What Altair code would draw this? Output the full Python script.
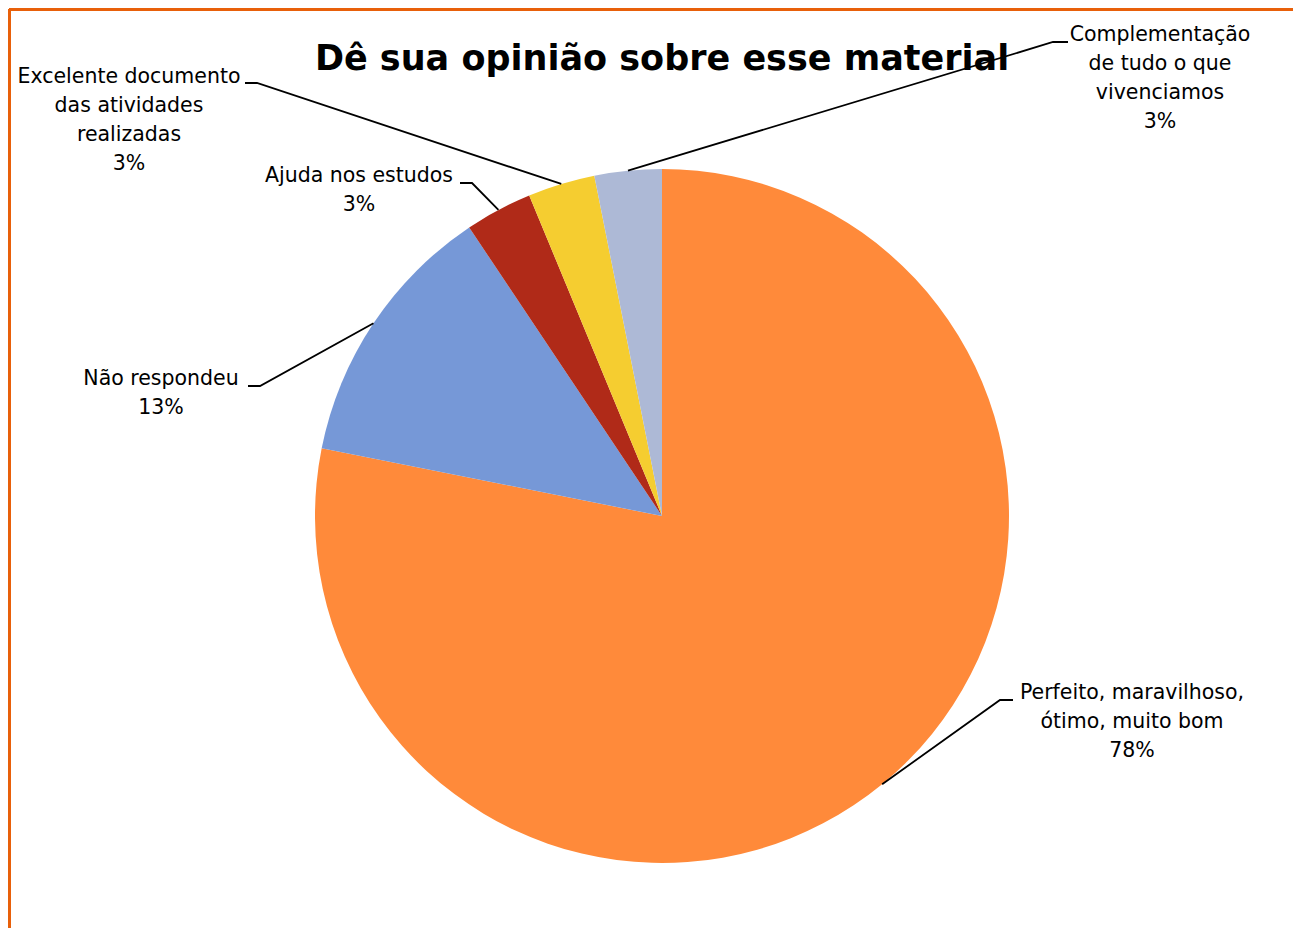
import math
import altair as alt
import pandas as pd

# ---- data ----
categories = [
    "Perfeito, maravilhoso, ótimo, muito bom",
    "Não respondeu",
    "Ajuda nos estudos",
    "Excelente documento das atividades realizadas",
    "Complementação de tudo o que vivenciamos",
]
label_lines = [
    "Perfeito, maravilhoso,\nótimo, muito bom",
    "Não respondeu",
    "Ajuda nos estudos",
    "Excelente documento\ndas atividades\nrealizadas",
    "Complementação\nde tudo o que\nvivenciamos",
]
counts = [25, 4, 1, 1, 1]
colors = ["#FF8A3A", "#7698D7", "#B02A18", "#F5CD30", "#ADB9D6"]
title_text = "Dê sua opinião sobre esse material"

# ---- layout (styles / placement, not data) ----
W, H = 1285, 920
CX, CY = 654, 508          # pie centre inside the view
R = 347                    # pie radius in px
FONT = "DejaVu Sans"
FS = 20.5
LH = 29
# label placement relative to the pie centre: (text centre x, first line centre y,
# elbow x, elbow y, tick end x)
label_layout = [
    (470, 177, 338, 184, 351),
    (-501, -137, -402, -130, -414),
    (-303, -340, -190, -333, -202),
    (-533, -439, -405, -433, -417),
    (498, -481, 391, -474, 406),
]

total = sum(counts)
pcts = [f"{math.floor(100 * c / total + 0.5)}%" for c in counts]

df = pd.DataFrame({"cat": categories, "count": counts, "idx": list(range(len(counts)))})

# label table and leader lines derived from slice mid-angles
lab_rows, line_rows = [], []
cum = 0
for i, c in enumerate(counts):
    mid = (cum + c / 2) / total * 2 * math.pi
    cum += c
    sx, sy = R * math.sin(mid), -R * math.cos(mid)
    tx, ty, ex, ey, kx = label_layout[i]
    lab_rows.append({"x": tx, "y": ty, "label": label_lines[i] + "\n" + pcts[i]})
    for k, (px, py) in enumerate([(sx, sy), (ex, ey), (kx, ey)]):
        line_rows.append({"g": i, "o": k, "x": px, "y": py})
lab_df = pd.DataFrame(lab_rows)
line_df = pd.DataFrame(line_rows)

xs = alt.Scale(domain=[-CX, W - CX], nice=False, zero=False)
ys = alt.Scale(domain=[-CY, H - CY], nice=False, zero=False, reverse=True)

pie = alt.Chart(df).mark_arc(outerRadius=R).encode(
    theta=alt.Theta("count:Q", stack=True),
    order=alt.Order("idx:Q"),
    color=alt.Color("cat:N", scale=alt.Scale(domain=categories, range=colors), legend=None),
    x=alt.X(datum=0, type="quantitative", scale=xs, axis=None),
    y=alt.Y(datum=0, type="quantitative", scale=ys, axis=None),
)

leaders = alt.Chart(line_df).mark_line(color="black", strokeWidth=1.8).encode(
    x=alt.X("x:Q", scale=xs, axis=None),
    y=alt.Y("y:Q", scale=ys, axis=None),
    detail="g:N",
    order="o:Q",
)

labels = alt.Chart(lab_df).mark_text(
    align="center", baseline="middle", lineBreak="\n", lineHeight=LH,
    font=FONT, fontSize=FS, color="black",
).encode(
    x=alt.X("x:Q", scale=xs, axis=None),
    y=alt.Y("y:Q", scale=ys, axis=None),
    text="label:N",
)

title = alt.Chart(pd.DataFrame({"t": [title_text]})).mark_text(
    align="center", baseline="middle", font=FONT, fontSize=35, fontWeight="bold", color="black",
).encode(
    x=alt.X(datum=0, type="quantitative", scale=xs, axis=None),
    y=alt.Y(datum=-457, type="quantitative", scale=ys, axis=None),
    text="t:N",
)

border_top = alt.Chart(df).mark_rule(color="#E8600A", strokeWidth=4).encode(
    x=alt.value(1), x2=alt.value(W + 10), y=alt.value(1)
)
border_left = alt.Chart(df).mark_rule(color="#E8600A", strokeWidth=4).encode(
    x=alt.value(1), y=alt.value(1), y2=alt.value(H + 10)
)

chart = alt.layer(pie, leaders, labels, title, border_top, border_left).properties(
    width=W, height=H, autosize=alt.AutoSizeParams(type="none"), padding=0,
    background="white",
).configure_view(stroke=None)

chart.save("out.html", embed_options={"renderer": "svg", "actions": False})
